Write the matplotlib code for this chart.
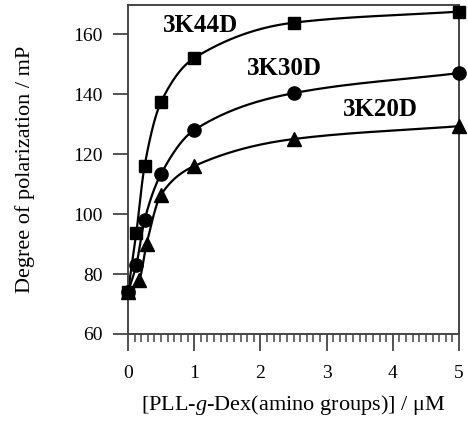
import numpy as np
import matplotlib
matplotlib.use("Agg")
import matplotlib.pyplot as plt
from matplotlib.ticker import MultipleLocator

plt.rcParams['font.family'] = ['Liberation Serif', 'DejaVu Serif']
plt.rcParams['mathtext.fontset'] = 'custom'
plt.rcParams['mathtext.rm'] = 'Liberation Serif'
plt.rcParams['mathtext.it'] = 'Liberation Serif:italic'

conc = [0, 0.125, 0.25, 0.5, 1, 2.5, 5]
conc20 = [0, 0.17, 0.28, 0.5, 1, 2.5, 5]
k44 = [74, 93.6, 116, 137.4, 152, 163.8, 167.5]
k30 = [74, 83, 98, 113.4, 128, 140.3, 147]
k20 = [74, 78, 90, 106.5, 116, 125, 129.3]
series_names = ['3K44D', '3K30D', '3K20D']
xticks = [0, 1, 2, 3, 4, 5]
yticks = [60, 80, 100, 120, 140, 160]


def pchip(x, y, xn):
    x = np.asarray(x, float); y = np.asarray(y, float)
    h = np.diff(x); d = np.diff(y) / h
    n = len(x); m = np.zeros(n)
    for k in range(1, n - 1):
        if d[k - 1] * d[k] > 0:
            w1 = 2 * h[k] + h[k - 1]; w2 = h[k] + 2 * h[k - 1]
            m[k] = (w1 + w2) / (w1 / d[k - 1] + w2 / d[k])
    m[0] = d[0]; m[-1] = d[-1]
    idx = np.clip(np.searchsorted(x, xn) - 1, 0, n - 2)
    t = (xn - x[idx]) / h[idx]
    h00 = 2 * t**3 - 3 * t**2 + 1; h10 = t**3 - 2 * t**2 + t
    h01 = -2 * t**3 + 3 * t**2; h11 = t**3 - t**2
    return h00 * y[idx] + h10 * h[idx] * m[idx] + h01 * y[idx + 1] + h11 * h[idx] * m[idx + 1]


fig = plt.figure(figsize=(4.68, 4.29), dpi=100)
ax = fig.add_axes([128 / 468, 1 - 334 / 429, (459 - 128) / 468, (334 - 5) / 429])

xs = np.linspace(0, 5, 600)
for xv, ys, mk, ms in [(conc, k44, 's', 8.5), (conc, k30, 'o', 9.5), (conc20, k20, '^', 9.5)]:
    ax.plot(xs, pchip(xv, ys, xs), color='black', lw=1.6, zorder=2)
    ax.plot(xv, ys, linestyle='none', marker=mk, ms=ms, color='black',
            clip_on=False, zorder=3)

ax.text(1.09, 163.0, series_names[0], ha='center', va='center', fontsize=18, fontweight='bold')
ax.text(2.36, 148.4, series_names[1], ha='center', va='center', fontsize=18, fontweight='bold')
ax.text(3.81, 134.7, series_names[2], ha='center', va='center', fontsize=18, fontweight='bold')

ax.set_xlim(0, 5)
ax.set_ylim(60, 169.7)
ax.set_xticks(xticks)
ax.set_yticks(yticks)
ax.xaxis.set_minor_locator(MultipleLocator(0.1))
ax.tick_params(axis='y', which='major', direction='out', length=11, width=1.3,
               color='#444444', labelsize=14, pad=7)
ax.tick_params(axis='x', which='major', direction='out', length=12, width=1.3,
               color='#444444', labelsize=14, pad=10)
ax.tick_params(axis='x', which='minor', direction='out', length=6, width=1.1,
               color='#444444')
for s in ax.spines.values():
    s.set_color('#444444'); s.set_linewidth(1.4)

ax.set_xlabel(r'[PLL-$g$-Dex(amino groups)] / μM', fontsize=16, labelpad=8)
ax.set_ylabel('Degree of polarization / mP', fontsize=16, labelpad=28)

fig.savefig('out.png', dpi=100)
